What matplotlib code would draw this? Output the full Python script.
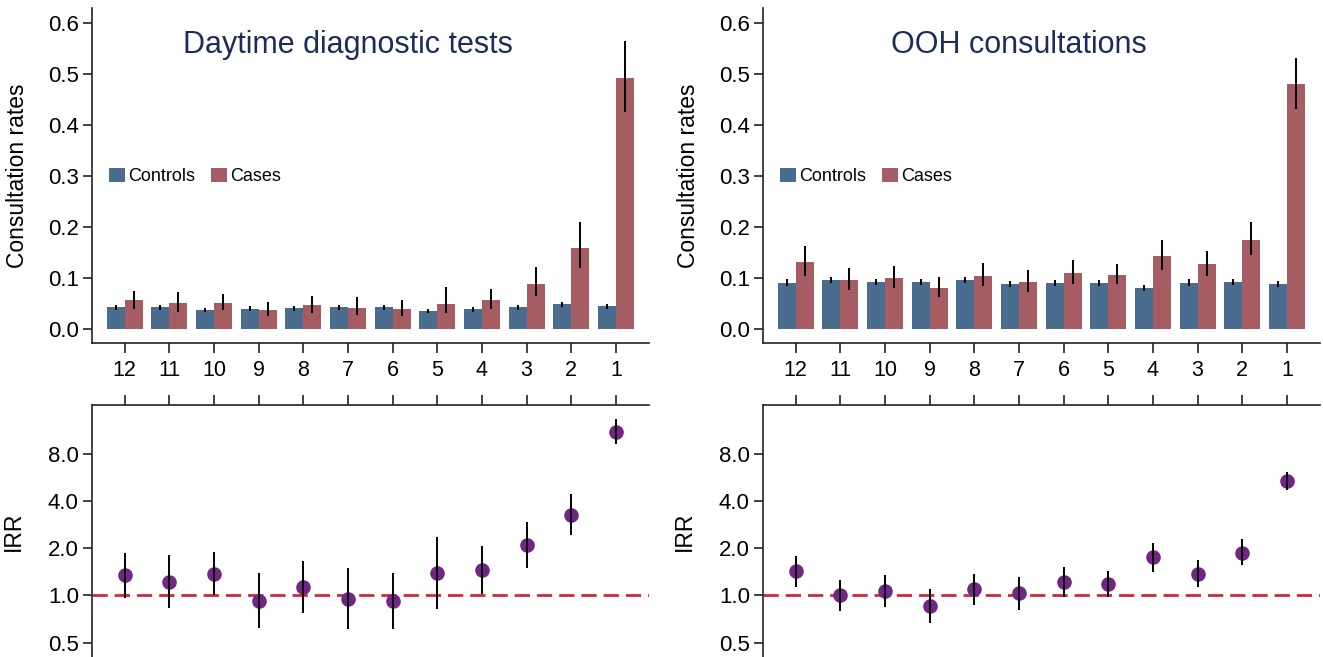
import numpy as np
import matplotlib.pyplot as plt
from matplotlib.patches import Patch
from matplotlib.ticker import FixedLocator, NullLocator

plt.rcParams['font.family'] = ['Liberation Sans', 'DejaVu Sans']

months = ['12', '11', '10', '9', '8', '7', '6', '5', '4', '3', '2', '1']

# daytime diagnostic tests
dt_ctrl = [0.043, 0.043, 0.0375, 0.040, 0.041, 0.043, 0.043, 0.036, 0.039, 0.043, 0.049, 0.045]
dt_ctrl_lo = [0.038, 0.038, 0.033, 0.035, 0.036, 0.038, 0.038, 0.032, 0.034, 0.038, 0.044, 0.040]
dt_ctrl_hi = [0.048, 0.048, 0.042, 0.045, 0.046, 0.048, 0.048, 0.040, 0.044, 0.048, 0.054, 0.050]
dt_case = [0.0566, 0.051, 0.051, 0.0375, 0.047, 0.041, 0.039, 0.049, 0.057, 0.089, 0.160, 0.491]
dt_case_lo = [0.040, 0.034, 0.0375, 0.026, 0.031, 0.027, 0.026, 0.031, 0.039, 0.065, 0.120, 0.426]
dt_case_hi = [0.075, 0.072, 0.068, 0.054, 0.066, 0.063, 0.058, 0.082, 0.078, 0.122, 0.210, 0.565]
dt_irr = [1.343, 1.217, 1.370, 0.924, 1.136, 0.952, 0.920, 1.397, 1.453, 2.10, 3.27, 11.17]
dt_irr_lo = [0.961, 0.830, 1.0, 0.618, 0.774, 0.609, 0.612, 0.825, 1.015, 1.50, 2.43, 9.36]
dt_irr_hi = [1.858, 1.813, 1.895, 1.397, 1.668, 1.504, 1.39, 2.35, 2.06, 2.93, 4.46, 13.47]

# OOH consultations
ooh_ctrl = [0.0914, 0.097, 0.093, 0.093, 0.096, 0.089, 0.091, 0.090, 0.081, 0.0914, 0.092, 0.089]
ooh_ctrl_lo = [0.085, 0.091, 0.087, 0.087, 0.090, 0.083, 0.085, 0.084, 0.075, 0.085, 0.086, 0.083]
ooh_ctrl_hi = [0.098, 0.103, 0.099, 0.099, 0.102, 0.095, 0.097, 0.096, 0.087, 0.098, 0.098, 0.095]
ooh_case = [0.131, 0.097, 0.100, 0.081, 0.105, 0.092, 0.111, 0.107, 0.143, 0.127, 0.174, 0.480]
ooh_case_lo = [0.105, 0.077, 0.080, 0.0625, 0.084, 0.072, 0.089, 0.088, 0.116, 0.104, 0.145, 0.431]
ooh_case_hi = [0.162, 0.120, 0.124, 0.102, 0.130, 0.116, 0.136, 0.128, 0.174, 0.153, 0.209, 0.532]
ooh_irr = [1.428, 1.0, 1.071, 0.86, 1.092, 1.035, 1.216, 1.18, 1.753, 1.38, 1.877, 5.39]
ooh_irr_lo = [1.135, 0.795, 0.847, 0.667, 0.864, 0.811, 0.971, 0.971, 1.42, 1.13, 1.56, 4.72]
ooh_irr_hi = [1.80, 1.264, 1.36, 1.10, 1.38, 1.32, 1.52, 1.435, 2.16, 1.686, 2.29, 6.12]

C_CTRL = '#4a6d8f'
C_CASE = '#a65c63'
C_DOT = '#722584'
C_REF = '#cc2a3c'
C_TITLE = '#1c2d5a'
C_AX = '#222222'

W = 1323
H = 657
fig = plt.figure(figsize=(W / 100, H / 100), dpi=100)

x = np.arange(len(months))
bw = 0.405


def style_ax(ax):
    for s in ax.spines.values():
        s.set_color(C_AX)
        s.set_linewidth(1.2)
    ax.tick_params(colors=C_AX, labelcolor='black', width=1.2)
    ax.tick_params(axis='y', labelsize=16)
    ax.tick_params(axis='x', labelsize=15.5)


def top_panel(left, title, ctrl, clo, chi, case, lo, hi):
    ax = fig.add_axes([left / W, 1 - 343 / H, 557 / W, 335 / H])
    ax.bar(x - bw / 2, ctrl, bw, color=C_CTRL)
    ax.bar(x + bw / 2, case, bw, color=C_CASE)
    ctrl = np.array(ctrl)
    case = np.array(case)
    ax.errorbar(x - bw / 2, ctrl, yerr=[ctrl - np.array(clo), np.array(chi) - ctrl],
                fmt='none', ecolor='black', elinewidth=1.4, capsize=0)
    ax.errorbar(x + bw / 2, case, yerr=[case - np.array(lo), np.array(hi) - case],
                fmt='none', ecolor='black', elinewidth=1.4, capsize=0)
    ax.set_xlim(-0.73, 11.74)
    ax.set_ylim(-0.027, 0.629)
    ax.set_xticks(x)
    ax.set_xticklabels(months)
    ax.set_yticks([0, 0.1, 0.2, 0.3, 0.4, 0.5, 0.6])
    ax.set_yticklabels(['0.0', '0.1', '0.2', '0.3', '0.4', '0.5', '0.6'])
    ax.spines['top'].set_visible(False)
    ax.spines['right'].set_visible(False)
    style_ax(ax)
    ax.tick_params(axis='x', length=7, pad=5)
    ax.tick_params(axis='y', length=6.5, pad=3)
    ax.set_ylabel('Consultation rates', fontsize=16.5)
    ax.text(0.46, 0.89, title, transform=ax.transAxes, ha='center', va='center',
            fontsize=22, color=C_TITLE)
    handles = [Patch(facecolor=C_CTRL), Patch(facecolor=C_CASE)]
    ax.legend(handles, ['Controls', 'Cases'], loc='center left',
              bbox_to_anchor=(0.031, 0.496), ncol=2, frameon=False,
              fontsize=13, borderpad=0, borderaxespad=0,
              handlelength=0.85, handleheight=0.8, handletextpad=0.2,
              columnspacing=0.9)
    return ax


def bottom_panel(left, irr, lo, hi):
    ax = fig.add_axes([left / W, 0, 557 / W, 1 - 405 / H])
    irr = np.array(irr)
    ax.axhline(1.0, color=C_REF, lw=2, ls=(0, (5.5, 2.5)), zorder=1)
    ax.plot(x, irr, 'o', color=C_DOT, ms=10.5, mec='none', zorder=2)
    ax.errorbar(x, irr, yerr=[irr - np.array(lo), np.array(hi) - irr],
                fmt='none', ecolor='black', elinewidth=1.4, capsize=0, zorder=3)
    ax.set_yscale('log', base=2)
    ax.set_xlim(-0.73, 11.74)
    ax.set_ylim(0.404, 16.5)
    ax.yaxis.set_major_locator(FixedLocator([0.5, 1, 2, 4, 8]))
    ax.yaxis.set_minor_locator(NullLocator())
    ax.set_yticklabels(['0.5', '1.0', '2.0', '4.0', '8.0'])
    ax.set_xticks(x)
    ax.xaxis.tick_top()
    ax.tick_params(axis='x', labeltop=False, labelbottom=False)
    ax.spines['bottom'].set_visible(False)
    ax.spines['right'].set_visible(False)
    style_ax(ax)
    ax.tick_params(axis='x', length=7)
    ax.tick_params(axis='y', length=6.5, pad=3)
    ax.set_ylabel('IRR', fontsize=16.5)
    return ax


a1 = top_panel(92, 'Daytime diagnostic tests', dt_ctrl, dt_ctrl_lo, dt_ctrl_hi,
               dt_case, dt_case_lo, dt_case_hi)
a2 = top_panel(763, 'OOH consultations', ooh_ctrl, ooh_ctrl_lo, ooh_ctrl_hi,
               ooh_case, ooh_case_lo, ooh_case_hi)
b1 = bottom_panel(92, dt_irr, dt_irr_lo, dt_irr_hi)
b2 = bottom_panel(763, ooh_irr, ooh_irr_lo, ooh_irr_hi)

# line up the y labels with the reference
for ax in (a1, a2):
    ax.yaxis.set_label_coords(-0.114, 0.5)
for ax in (b1, b2):
    ax.yaxis.set_label_coords(-0.12, 0.5)

fig.savefig('out.png', dpi=100)
